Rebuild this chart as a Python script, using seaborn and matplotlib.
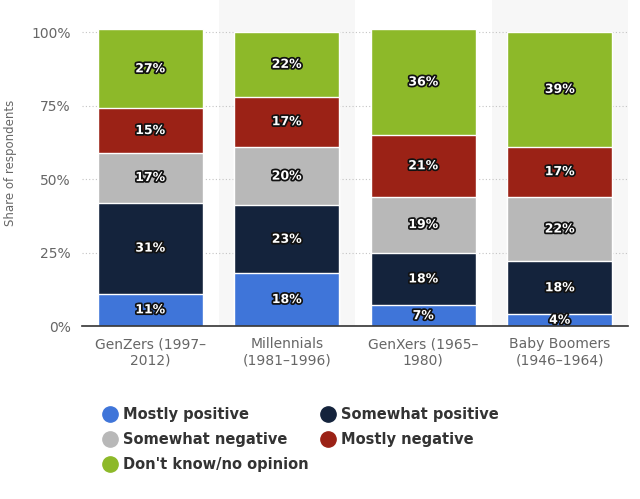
import numpy as np
import pandas as pd
import seaborn as sns
import matplotlib.pyplot as plt
import matplotlib.patheffects as pe
from matplotlib.lines import Line2D

categories = ["GenZers (1997–\n2012)", "Millennials\n(1981–1996)",
              "GenXers (1965–\n1980)", "Baby Boomers\n(1946–1964)"]
series = ["Mostly positive", "Somewhat positive", "Somewhat negative",
          "Mostly negative", "Don't know/no opinion"]
mostly_positive = [11, 18, 7, 4]
somewhat_positive = [31, 23, 18, 18]
somewhat_negative = [17, 20, 19, 22]
mostly_negative = [15, 17, 21, 17]
dont_know = [27, 22, 36, 39]
colors = ["#3f75d9", "#14233c", "#b8b8b8", "#9b2216", "#8db929"]

values = [mostly_positive, somewhat_positive, somewhat_negative,
          mostly_negative, dont_know]
df = pd.DataFrame({s: v for s, v in zip(series, values)}, index=categories)
tops = df.cumsum(axis=1)

sns.set_style("white")
fig = plt.figure(figsize=(6.4, 4.99), dpi=100)
ax = fig.add_axes([82 / 640, (499 - 326) / 499, (628 - 82) / 640, 326 / 499])

# alternating background bands
for i in (1, 3):
    ax.axvspan(i - 0.5, i + 0.5, color="#f7f7f7", zorder=0, lw=0)

# draw tallest cumulative first so shorter ones sit on top
for s, c in reversed(list(zip(series, colors))):
    sns.barplot(x=categories, y=tops[s].values, color=c, width=0.77,
                edgecolor="white", linewidth=1, ax=ax, zorder=3,
                saturation=1)

# segment labels
for i, cat in enumerate(categories):
    bottom = 0
    for s in series:
        v = df.loc[cat, s]
        ax.text(i, bottom + v / 2, f"{v}%", ha="center", va="center",
                color="white", fontsize=9, fontweight="bold", zorder=5,
                path_effects=[pe.withStroke(linewidth=2.5, foreground="#111111")])
        bottom += v

ax.set_xlim(-0.5, 3.5)
ax.set_ylim(0, 110.9)
ax.set_yticks([0, 25, 50, 75, 100])
ax.set_yticklabels(["0%", "25%", "50%", "75%", "100%"])
ax.yaxis.grid(True, linestyle=(0, (1, 2)), color="#c4c4c4", lw=0.8, zorder=1)
ax.set_axisbelow(True)
for sp in ["top", "right", "left"]:
    ax.spines[sp].set_visible(False)
ax.spines["bottom"].set_color("#333333")
ax.spines["bottom"].set_linewidth(1.2)
ax.spines["bottom"].set_zorder(6)
ax.tick_params(axis="both", length=0, colors="#666666", labelsize=10)
ax.tick_params(axis="x", pad=8)
ax.tick_params(axis="y", pad=8)
ax.set_ylabel("Share of respondents", color="#666666", fontsize=8.5, labelpad=10)
ax.set_xlabel("")

handles = [Line2D([], [], marker="o", ls="", markersize=11,
                  markerfacecolor=c, markeredgecolor=c) for c in colors]
order = [0, 2, 4, 1, 3]
leg = fig.legend([handles[k] for k in order], [series[k] for k in order],
                 ncol=2, loc="upper left", bbox_to_anchor=(88 / 640, 1 - 394 / 499),
                 frameon=False, fontsize=10.5, handletextpad=0.3,
                 columnspacing=0.75, labelspacing=0.68, handlelength=1.2)
for t in leg.get_texts():
    t.set_fontweight("bold")
    t.set_color("#333333")

fig.savefig("out.png", dpi=100)
